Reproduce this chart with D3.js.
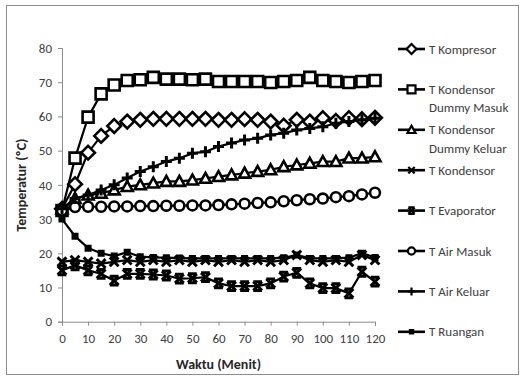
<!DOCTYPE html>
<html><head><meta charset="utf-8">
<script src="https://cdn.jsdelivr.net/npm/d3@7"></script>
<style>
html,body{margin:0;padding:0;background:#fff;}
svg{display:block;font-family:Carlito,Lato,"Liberation Sans",sans-serif;}
</style></head>
<body><svg id="c" width="525" height="377"></svg>
<script>
const minutes = [0,5,10,15,20,25,30,35,40,45,50,55,60,65,70,75,80,85,90,95,100,105,110,115,120];
const tKompresor = [33,40.2,49.4,54.3,57.2,58.5,59,59.3,59.3,59.3,59.3,59.3,59,59,59.2,59,58.5,57.3,59,58.5,59.5,58.7,59.5,59.2,59.6];
const tKondMasuk = [32.5,47.8,59.8,66.6,69.2,70.5,70.7,71.4,70.9,70.9,70.7,70.9,70.2,70.2,70.2,70.2,69.9,70.2,70.5,71.4,70.5,70.2,69.9,70.2,70.5];
const tKondKeluar = [33,36,37,37.5,38.5,39.5,40,40.5,41,41,41.4,41.9,42.4,42.9,43.4,43.9,44.4,45.3,45.8,46.3,46.8,46.8,47.8,47.8,48.2];
const tKondensor = [17.5,18,17.5,17,17.5,18,17.5,18,17.5,18,17.5,18,17.5,18,17.5,18,17.5,18,19.5,18,17.5,18,17.5,19.5,18];
const tEvaporator = [15,16.5,15,14,12,14,14,13.8,13.5,12.6,12.7,13,11.2,10.4,10.4,10.4,11.2,13.2,14.3,11.2,9.8,9.8,8.3,14.6,11.7];
const tAirMasuk = [32.5,33.5,33.6,33.6,33.7,33.7,33.8,33.8,33.9,33.9,34,34,34.1,34.3,34.5,34.7,34.9,35.2,35.5,35.8,36,36.4,36.7,37.2,37.7];
const tAirKeluar = [33,36,37,38.5,40,42,43.9,45.3,46.8,47.8,49.2,49.7,51.2,52.2,53.1,53.6,54.6,55.1,56,56.5,57,58,58.5,59,59.5];
const tRuangan = [30,25,21.5,20,19.2,20.3,19,18.8,18.7,18.6,18.5,18.5,18.5,18.5,18.5,18.5,18.5,18.7,19.5,18.5,18.5,18.5,18.7,20,18.8];

const seriesNames = ["T Kompresor","T Kondensor\nDummy Masuk","T Kondensor\nDummy Keluar","T Kondensor","T Evaporator","T Air Masuk","T Air Keluar","T Ruangan"];
const seriesValues = [tKompresor,tKondMasuk,tKondKeluar,tKondensor,tEvaporator,tAirMasuk,tAirKeluar,tRuangan];
const markerTypes = ["diamond","square","triangle","x","xbar","circle","plus","dot"];
const yTicks = [0,10,20,30,40,50,60,70,80];
const xTicks = [0,10,20,30,40,50,60,70,80,90,100,110,120];

const svg = d3.select("#c");
svg.append("rect").attr("x",6.5).attr("y",5.5).attr("width",512).attr("height",369)
  .attr("fill","#fff").attr("stroke","#8c8c8c").attr("stroke-width",1);

const x = d3.scaleLinear().domain([0,120]).range([62,375]);
const y = d3.scaleLinear().domain([0,80]).range([321.7,48]);

const yAx = svg.append("g").attr("transform","translate(62,0)")
  .call(d3.axisLeft(y).tickValues(yTicks).tickSize(4).tickPadding(6));
const xAx = svg.append("g").attr("transform","translate(0,321.7)")
  .call(d3.axisBottom(x).tickValues(xTicks).tickSize(4).tickPadding(8));
[yAx,xAx].forEach(g=>{
  g.select(".domain").attr("stroke","#8c8c8c");
  g.selectAll(".tick line").attr("stroke","#8c8c8c");
  g.selectAll(".tick text").attr("fill","#404040").style("font-size","13px").style("font-family","Carlito,Lato,sans-serif");
});

svg.append("text").attr("transform","translate(26,185) rotate(-90)").attr("text-anchor","middle")
  .style("font-size","14px").style("font-weight","bold").attr("fill","#262626").text("Temperatur (ºC)");
svg.append("text").attr("x",218.5).attr("y",369).attr("text-anchor","middle")
  .style("font-size","14px").style("font-weight","bold").attr("fill","#262626").text("Waktu (Menit)");

function markerPath(type, s){
  const p = d3.path();
  if(type==="square"){ p.rect(-s/2,-s/2,s,s); }
  else if(type==="diamond"){ const h=s*0.62; p.moveTo(0,-h);p.lineTo(h,0);p.lineTo(0,h);p.lineTo(-h,0);p.closePath(); }
  else if(type==="triangle"){ const h=s*0.5; p.moveTo(0,-h);p.lineTo(h,h*0.8);p.lineTo(-h,h*0.8);p.closePath(); }
  else if(type==="circle"){ p.arc(0,0,s*0.45,0,2*Math.PI); }
  else if(type==="plus"){ const h=s*0.5; p.moveTo(-h,0);p.lineTo(h,0);p.moveTo(0,-h);p.lineTo(0,h); }
  else if(type==="x"){ const h=s*0.4; p.moveTo(-h,-h);p.lineTo(h,h);p.moveTo(h,-h);p.lineTo(-h,h); }
  else if(type==="xbar"){ const h=s*0.4; p.moveTo(-h,-h);p.lineTo(h,h);p.moveTo(h,-h);p.lineTo(-h,h);
    p.moveTo(-h,-h);p.lineTo(h,-h);p.moveTo(-h,h);p.lineTo(h,h); }
  else if(type==="dot"){ const h=s*0.2; p.rect(-h,-h,2*h,2*h); }
  return p.toString();
}
const filled = {dot:true};

const line = d3.line().x(d=>x(d[0])).y(d=>y(d[1]));
seriesValues.forEach((vals,i)=>{
  const pts = minutes.map((m,j)=>[m,vals[j]]);
  const g = svg.append("g");
  g.append("path").attr("d",line(pts)).attr("fill","none").attr("stroke","#000").attr("stroke-width",2.2);
  const t = markerTypes[i];
  g.selectAll("path.m").data(pts).enter().append("path").attr("class","m")
    .attr("transform",d=>`translate(${x(d[0])},${y(d[1])})`)
    .attr("d",markerPath(t,11))
    .attr("fill",filled[t]?"#000":"#fff").attr("stroke","#000")
    .attr("stroke-width",(t==="x"||t==="xbar"||t==="plus")?3:2.6);
});

const lg = svg.append("g");
seriesNames.forEach((name,i)=>{
  const ly = 49 + i*40.4;
  lg.append("line").attr("x1",398).attr("x2",425).attr("y1",ly).attr("y2",ly).attr("stroke","#000").attr("stroke-width",2.6);
  const t = markerTypes[i];
  lg.append("path").attr("transform",`translate(411.5,${ly})`).attr("d",markerPath(t,8))
    .attr("fill",filled[t]?"#000":"#fff").attr("stroke","#000").attr("stroke-width",2.2);
  const lines = name.split("\n");
  const tx = lg.append("text").attr("x",429).attr("y",ly+4.5).style("font-size","13px").attr("fill","#404040");
  lines.forEach((ln,k)=>tx.append("tspan").attr("x",429).attr("dy",k===0?0:18.5).text(ln));
});
</script></body></html>
